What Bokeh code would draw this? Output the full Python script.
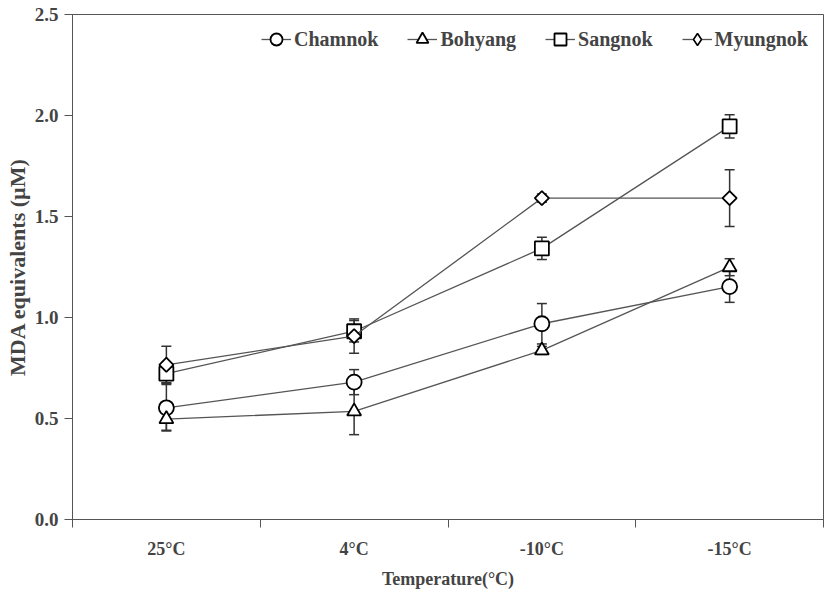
import math
from bokeh.plotting import figure
from bokeh.models import Range1d, FixedTicker, Whisker, ColumnDataSource, Legend, LegendItem
from bokeh.embed import file_html
from bokeh.resources import INLINE

categories = ["25\u00b0C", "4\u00b0C", "-10\u00b0C", "-15\u00b0C"]

chamnok = [0.553, 0.680, 0.969, 1.153]
chamnok_err = [0.115, 0.062, 0.100, 0.078]
bohyang = [0.497, 0.535, 0.837, 1.249]
bohyang_err = [0.055, 0.115, 0.020, 0.042]
sangnok = [0.722, 0.932, 1.342, 1.946]
sangnok_err = [0.045, 0.053, 0.055, 0.058]
myungnok = [0.766, 0.908, 1.591, 1.591]
myungnok_err = [0.092, 0.085, 0.020, 0.140]

y_ticks = [0.0, 0.5, 1.0, 1.5, 2.0, 2.5]

FONT = "Liberation Serif"
LINE_C = "#555555"

p = figure(width=825, height=591, output_backend="svg", toolbar_location=None,
           x_range=Range1d(0, len(categories)), y_range=Range1d(0, 2.5),
           min_border_left=72, min_border_right=2, min_border_top=14, min_border_bottom=72)
p.grid.visible = False
p.outline_line_color = LINE_C
p.outline_line_width = 1
p.background_fill_color = "white"
p.border_fill_color = "white"

xs = [i + 0.5 for i in range(len(categories))]

series = [
    ("Chamnok", chamnok, chamnok_err, "circle", 15, 0, "circle"),
    ("Bohyang", bohyang, bohyang_err, "triangle", 14, 0, "triangle"),
    ("Sangnok", sangnok, sangnok_err, "square", 14, 0, "square"),
    ("Myungnok", myungnok, myungnok_err, "square", 10, math.pi / 4, "diamond"),
]

items = []
for name, vals, errs, marker, size, ang, leg_marker in series:
    src = ColumnDataSource(dict(x=xs, y=vals,
                                upper=[v + e for v, e in zip(vals, errs)],
                                lower=[v - e for v, e in zip(vals, errs)]))
    w = Whisker(base="x", upper="upper", lower="lower", source=src, dimension="height",
                line_color="#333333", line_width=1.5)
    w.upper_head.size = 10
    w.lower_head.size = 10
    w.upper_head.line_color = "#333333"
    w.lower_head.line_color = "#333333"
    w.upper_head.line_width = 1.5
    w.lower_head.line_width = 1.5
    p.add_layout(w)
    ln = p.line("x", "y", source=src, line_color=LINE_C, line_width=1.3)
    leg = None
    if ang:
        # glyph used for the legend (legend does not show rotation); hidden under the rotated square
        leg = p.scatter("x", "y", source=src, marker=leg_marker, size=12,
                        fill_color="white", line_color="black", line_width=1.6)
    sc = p.scatter("x", "y", source=src, marker=marker, size=size, angle=ang,
                   fill_color="white", line_color="black", line_width=1.8)
    items.append(LegendItem(label=name, renderers=[ln, leg if leg is not None else sc]))

legend = Legend(items=items, orientation="horizontal", location=(189, 465),
                border_line_color=None, background_fill_alpha=0,
                label_text_font=FONT, label_text_font_style="bold", label_text_font_size="20px",
                glyph_width=30, glyph_height=30, label_standoff=3, spacing=29,
                margin=0, padding=5)
p.add_layout(legend)

# x axis: labels at category centres, ticks at boundaries
xa = p.xaxis[0]
xa.ticker = FixedTicker(ticks=xs, minor_ticks=list(range(len(categories) + 1)))
xa.major_label_overrides = {x: c for x, c in zip(xs, categories)}
xa.major_tick_line_color = None
xa.minor_tick_in = 0
xa.minor_tick_out = 8
xa.minor_tick_line_color = LINE_C
xa.axis_line_color = LINE_C
xa.major_label_text_font = FONT
xa.major_label_text_font_style = "bold"
xa.major_label_text_font_size = "18px"
xa.major_label_standoff = 11
xa.axis_label = "Temperature(\u00b0C)"
xa.axis_label_text_font = FONT
xa.axis_label_text_font_style = "bold"
xa.axis_label_text_font_size = "18px"
xa.axis_label_standoff = 7

ya = p.yaxis[0]
ya.ticker = FixedTicker(ticks=y_ticks)
ya.major_label_overrides = {t: f"{t:.1f}" for t in y_ticks}
ya.minor_tick_line_color = None
ya.major_tick_in = 0
ya.major_tick_out = 8
ya.major_tick_line_color = LINE_C
ya.axis_line_color = LINE_C
ya.major_label_text_font = FONT
ya.major_label_text_font_style = "bold"
ya.major_label_text_font_size = "19px"
ya.major_label_standoff = 6
ya.axis_label = "MDA equivalents (\u00b5M)"
ya.axis_label_text_font = FONT
ya.axis_label_text_font_style = "bold"
ya.axis_label_text_font_size = "22px"
ya.axis_label_standoff = 2

open("out.html", "w").write(file_html(p, INLINE))
